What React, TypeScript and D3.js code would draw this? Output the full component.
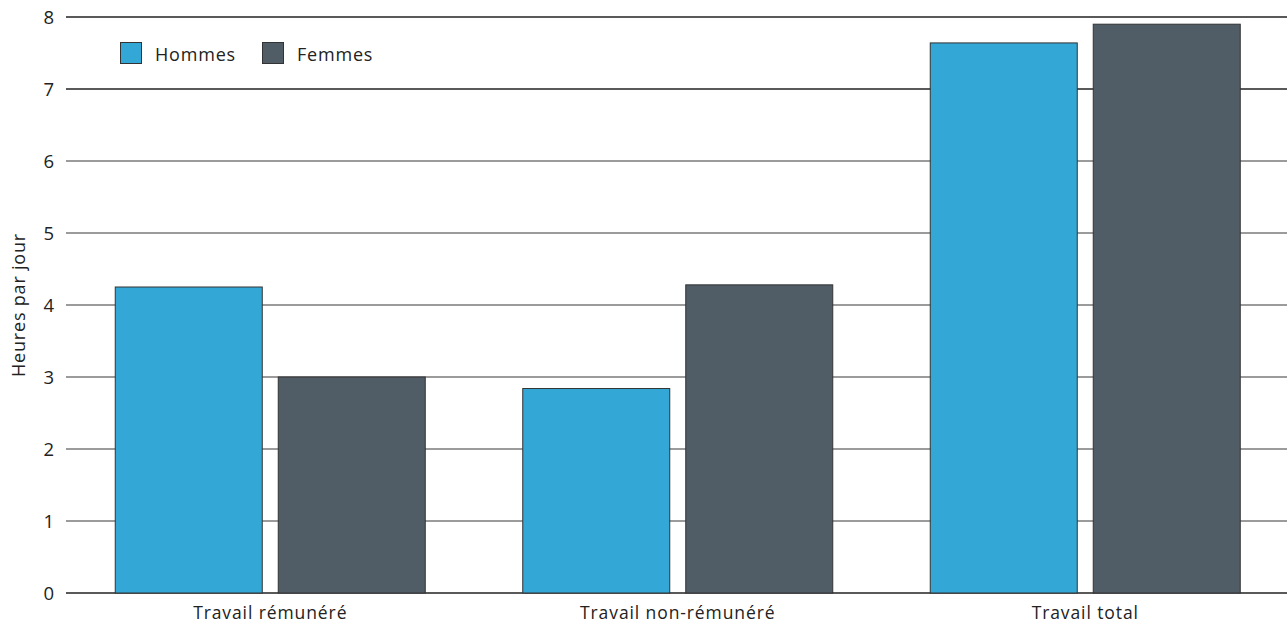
import React from "react";
import * as d3 from "d3";

const categories = ["Travail rémunéré", "Travail non-rémunéré", "Travail total"];
const seriesNames = ["Hommes", "Femmes"];
const hommes = [4.25, 2.84, 7.64];
const femmes = [3.0, 4.28, 7.9];
const yTicks = [0, 1, 2, 3, 4, 5, 6, 7, 8];
const colors = ["#33a8d6", "#505d66"];

const W = 1287;
const H = 626;
const margin = { left: 66.5, right: -2, top: 17, bottom: 33 };
const font = "'Open Sans', sans-serif";

export default function App() {
  const x = d3
    .scaleBand<string>()
    .domain(categories)
    .range([margin.left, W - margin.right])
    .paddingInner(0)
    .paddingOuter(0);
  const y = d3.scaleLinear().domain([0, 8]).range([H - margin.bottom, margin.top]);

  const barW = 147;
  const gap = 16;
  const values = [hommes, femmes];

  return (
    <svg
      width={W}
      height={H}
      style={{ position: "absolute", left: 0, top: 0, background: "#fff" }}
      fontFamily={font}
    >
      {yTicks.map((t) => (
        <g key={t}>
          <line
            x1={66}
            x2={W}
            y1={Math.round(y(t))}
            y2={Math.round(y(t))}
            stroke={t === 0 || t >= 7 ? "#222" : "#7a7a7a"}
            strokeWidth={t === 0 || t >= 7 ? 1.3 : 1.6}
          />
          <text
            x={54}
            y={y(t) + 6.5}
            textAnchor="end"
            fontSize={18.5}
            fill="#222"
          >
            {t}
          </text>
        </g>
      ))}

      {categories.map((c, i) => {
        const cx = (x(c) as number) + x.bandwidth() / 2;
        return (
          <g key={c}>
            {values.map((vals, s) => {
              const x0 = s === 0 ? cx - gap / 2 - barW : cx + gap / 2;
              return (
                <rect
                  key={s}
                  x={x0}
                  y={y(vals[i])}
                  width={barW}
                  height={y(0) - y(vals[i])}
                  fill={colors[s]}
                  stroke="#333"
                  strokeWidth={1}
                />
              );
            })}
            <text
              x={cx}
              y={619}
              textAnchor="middle"
              fontSize={17.5}
              letterSpacing={0.9}
              fill="#222"
            >
              {c}
            </text>
          </g>
        );
      })}

      <text
        transform={`translate(25,${(y(0) + y(8)) / 2}) rotate(-90)`}
        textAnchor="middle"
        fontSize={18}
        letterSpacing={0.8}
        fill="#222"
      >
        Heures par jour
      </text>

      {seriesNames.map((n, s) => {
        const lx = s === 0 ? 120 : 262;
        return (
          <g key={n}>
            <rect
              x={lx + 0.5}
              y={42.5}
              width={21}
              height={21}
              fill={colors[s]}
              stroke="#333"
              strokeWidth={1}
            />
            <text x={lx + 35} y={61} fontSize={18} letterSpacing={0.8} fill="#222">
              {n}
            </text>
          </g>
        );
      })}
    </svg>
  );
}
